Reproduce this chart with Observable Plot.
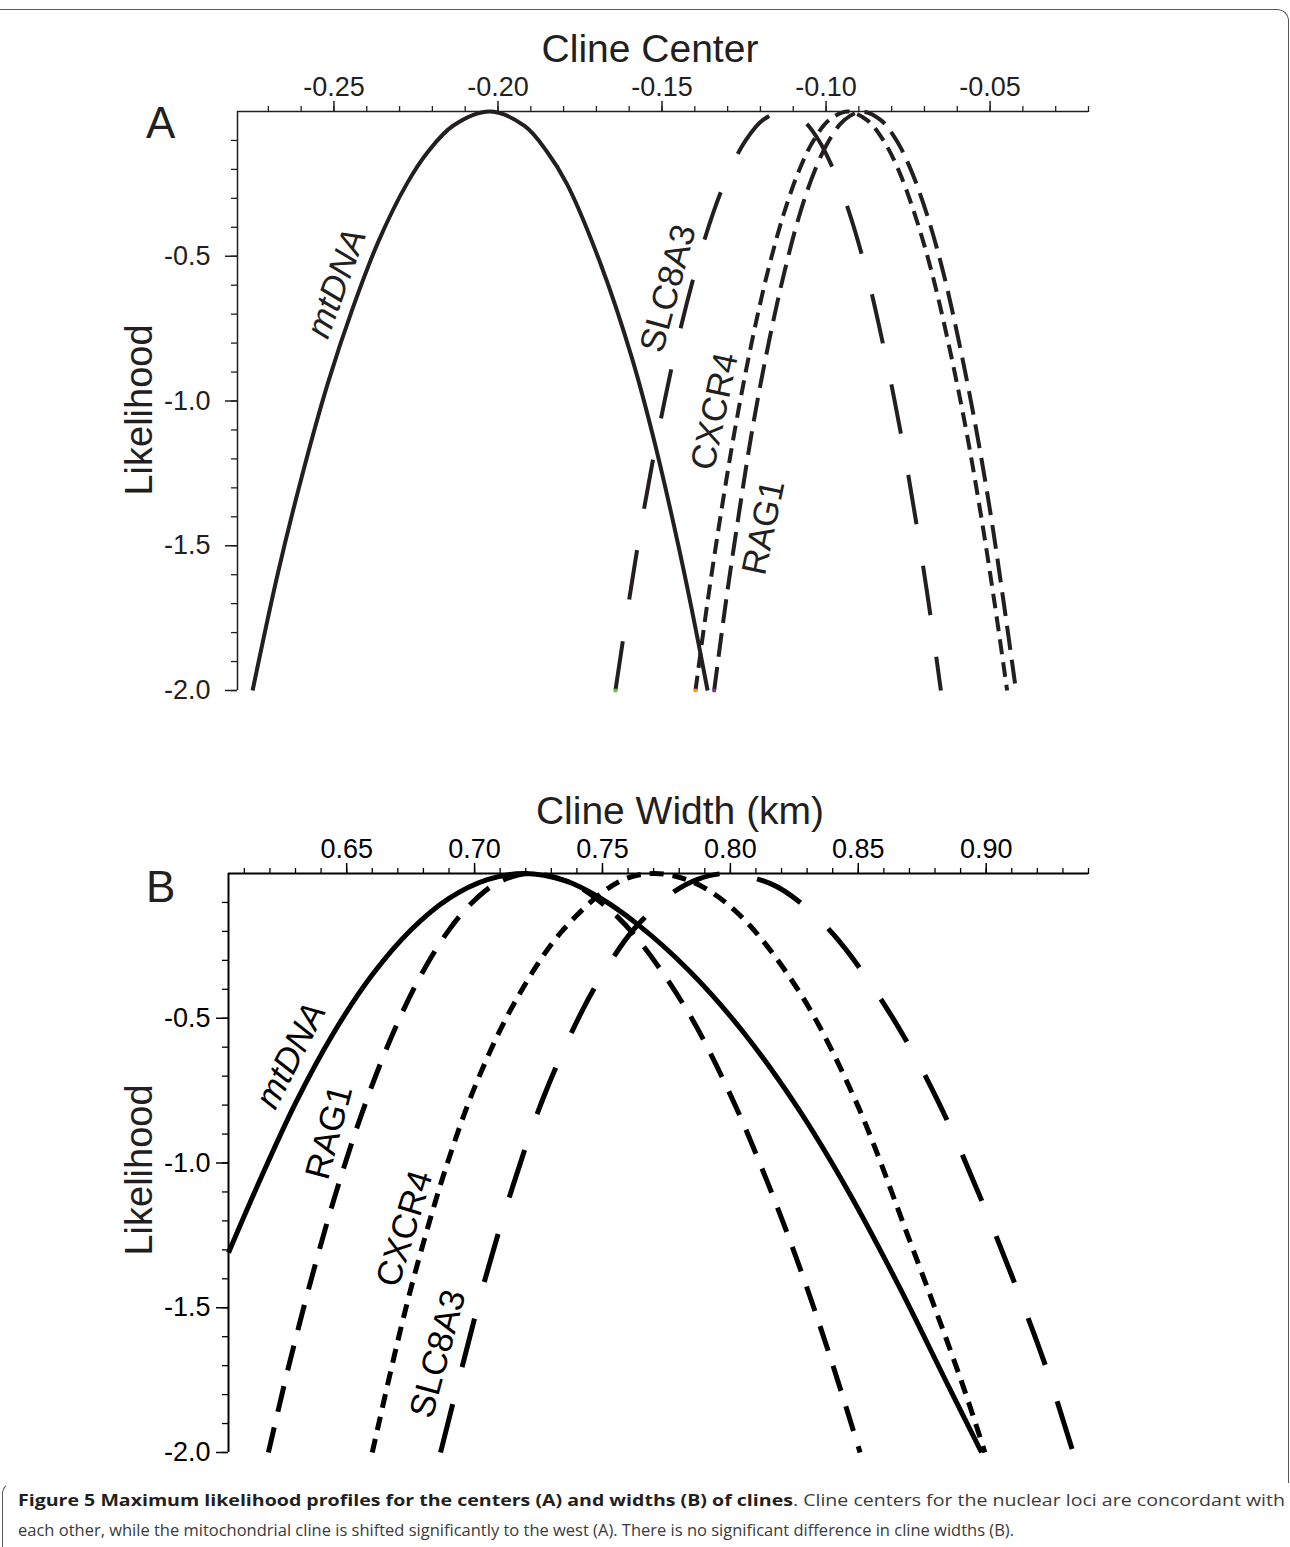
<!DOCTYPE html>
<html>
<head>
<meta charset="utf-8">
<script src="https://cdn.jsdelivr.net/npm/d3@7"></script>
<script src="https://cdn.jsdelivr.net/npm/@observablehq/plot@0.6"></script>
<style>
  html, body { margin: 0; padding: 0; background: #fff; }
  body { width: 1290px; height: 1547px; position: relative; overflow: hidden; font-family: "Liberation Sans", Arial, Helvetica, sans-serif; color: #231f20; }
  #panelA, #panelB { position: absolute; left: 0; }
  #panelA { top: 0; }
  #panelB { top: 760px; }
  .frame { position: absolute; left: -6px; top: 9px; width: 1295px; height: 1474px; box-sizing: border-box;
           border-top: 1.5px solid #5a5a5a; border-right: 1.5px solid #5a5a5a; border-top-right-radius: 12px; }
  .capframe { position: absolute; left: 2px; top: 1482px; width: 30px; height: 90px; box-sizing: border-box;
              border-left: 1.5px solid #5a5a5a; border-top: 1.5px solid transparent; border-top-left-radius: 12px; }
  .title { position: absolute; font-size: 39px; line-height: 39px; white-space: nowrap; transform: translateX(-50%); }
  .panel { position: absolute; font-size: 44px; line-height: 44px; }
  .ylab { position: absolute; font-size: 38px; line-height: 38px; white-space: nowrap; transform: translate(-50%, -50%) rotate(-90deg); }
  .capline { position: absolute; left: 18px; font-family: "Open Sans", "Noto Sans", sans-serif; font-size: 16.5px; line-height: 30px;
             white-space: nowrap; color: #3a3a3a; transform-origin: 0 0; display: inline-block; }
  .capline b { color: #231f20; }
</style>
</head>
<body>
<div class="frame"></div>
<div class="capframe"></div>

<div id="panelA"></div>
<div id="panelB"></div>

<div class="panel" style="left:146px; top:101px;">A</div>
<div class="panel" style="left:146px; top:865px;">B</div>
<div class="title" style="left:650px; top:29px;">Cline Center</div>
<div class="title" style="left:680px; top:791px;">Cline Width (km)</div>
<div class="ylab" style="left:139px; top:410px;">Likelihood</div>
<div class="ylab" style="left:139px; top:1170px;">Likelihood</div>

<div class="capline" id="cap1" style="top:1485px;"><b>Figure 5 Maximum likelihood profiles for the centers (A) and widths (B) of clines</b>. Cline centers for the nuclear loci are concordant with</div>
<div class="capline" id="cap2" style="top:1515px;">each other, while the mitochondrial cline is shifted significantly to the west (A). There is no significant difference in cline widths (B).</div>

<script>
// ---------------- Panel A : cline centre likelihood profiles ----------------
// points are [cline centre, relative log-likelihood]
const A_mtDNA = [[-0.2748,-2.0],[-0.2672,-1.6],[-0.2600,-1.27],[-0.2519,-0.94],[-0.2443,-0.68],[-0.2363,-0.445],[-0.2278,-0.25],[-0.2214,-0.14],[-0.2138,-0.05],[-0.2025,0],[-0.1919,-0.05],[-0.1850,-0.14],[-0.1790,-0.25],[-0.1686,-0.53],[-0.1592,-0.85],[-0.1521,-1.15],[-0.1450,-1.5],[-0.1404,-1.75],[-0.1361,-2.0]];
const A_SLC8A3 = [[-0.1642,-2],[-0.1602,-1.7],[-0.1559,-1.4],[-0.1510,-1.1],[-0.1454,-0.8],[-0.1398,-0.55],[-0.1344,-0.35],[-0.1292,-0.2],[-0.1245,-0.1],[-0.1193,-0.03],[-0.1130,0],[-0.1071,-0.03],[-0.1022,-0.1],[-0.0978,-0.2],[-0.0929,-0.35],[-0.0878,-0.55],[-0.0827,-0.8],[-0.0774,-1.1],[-0.0728,-1.4],[-0.0687,-1.7],[-0.0650,-2]];
const A_CXCR4 = [[-0.1398,-2],[-0.1362,-1.7],[-0.1322,-1.4],[-0.1278,-1.1],[-0.1227,-0.8],[-0.1177,-0.55],[-0.1128,-0.35],[-0.1081,-0.2],[-0.1038,-0.1],[-0.0991,-0.03],[-0.0934,0],[-0.0875,-0.03],[-0.0825,-0.1],[-0.0780,-0.2],[-0.0731,-0.35],[-0.0679,-0.55],[-0.0627,-0.8],[-0.0573,-1.1],[-0.0527,-1.4],[-0.0486,-1.7],[-0.0448,-2]];
const A_RAG1 = [[-0.1341,-2],[-0.1306,-1.7],[-0.1267,-1.4],[-0.1225,-1.1],[-0.1175,-0.8],[-0.1126,-0.55],[-0.1079,-0.35],[-0.1033,-0.2],[-0.0991,-0.1],[-0.0945,-0.03],[-0.0890,0],[-0.0833,-0.03],[-0.0785,-0.1],[-0.0742,-0.2],[-0.0694,-0.35],[-0.0644,-0.55],[-0.0594,-0.8],[-0.0542,-1.1],[-0.0497,-1.4],[-0.0458,-1.7],[-0.0421,-2]];
const A_labels = [
  {name: "SLC8A3", x: -0.1481, L: -0.611, angle: -75},
  {name: "CXCR4",  x: -0.1339, L: -1.036, angle: -78},
  {name: "RAG1",   x: -0.1190, L: -1.437, angle: -78}
];
const A_italic = [{name: "mtDNA", x: -0.2492, L: -0.594, angle: -70}];
const A_endMarks = [{x: -0.1642, c: "#6abd45"}, {x: -0.1398, c: "#f7941d"}, {x: -0.1341, c: "#92278f"}];
const A_xDomain = [-0.2794, -0.02];
const A_xTicks = [-0.25, -0.20, -0.15, -0.10, -0.05];
const A_xMinor = [-0.27,-0.26,-0.25,-0.24,-0.23,-0.22,-0.21,-0.20,-0.19,-0.18,-0.17,-0.16,-0.15,-0.14,-0.13,-0.12,-0.11,-0.10,-0.09,-0.08,-0.07,-0.06,-0.05,-0.04,-0.03,-0.02];

// ---------------- Panel B : cline width likelihood profiles ----------------
const B_mtDNA = [[0.6038,-1.31],[0.6150,-1.081],[0.6300,-0.793],[0.6450,-0.549],[0.6600,-0.350],[0.6750,-0.196],[0.6900,-0.086],[0.7050,-0.021],[0.7195,0],[0.7353,-0.025],[0.7486,-0.082],[0.7635,-0.174],[0.7838,-0.335],[0.8047,-0.544],[0.8262,-0.808],[0.8463,-1.101],[0.8657,-1.422],[0.8852,-1.770],[0.8982,-2.0]];
const B_RAG1 = [[0.6194,-2.0],[0.6274,-1.7],[0.6362,-1.4],[0.6459,-1.1],[0.6571,-0.8],[0.6682,-0.55],[0.6791,-0.35],[0.6896,-0.2],[0.6991,-0.1],[0.7094,-0.03],[0.7220,0],[0.7371,-0.03],[0.7495,-0.1],[0.7628,-0.216],[0.7836,-0.481],[0.8005,-0.774],[0.8148,-1.073],[0.8279,-1.380],[0.8396,-1.686],[0.8507,-2.0]];
const B_CXCR4 = [[0.6600,-2.0],[0.6712,-1.57],[0.6789,-1.31],[0.6894,-1.0],[0.7009,-0.72],[0.7154,-0.45],[0.7341,-0.2],[0.7561,-0.03],[0.7700,0],[0.7855,-0.03],[0.8031,-0.139],[0.8266,-0.404],[0.8487,-0.780],[0.8695,-1.254],[0.8904,-1.756],[0.8995,-2.0]];
const B_SLC8A3 = [[0.6867,-2.0],[0.6951,-1.706],[0.7044,-1.392],[0.7150,-1.079],[0.7270,-0.772],[0.7423,-0.470],[0.7527,-0.311],[0.7625,-0.190],[0.7775,-0.066],[0.7872,-0.02],[0.7990,0],[0.8157,-0.035],[0.8273,-0.1],[0.8422,-0.230],[0.8637,-0.502],[0.8812,-0.787],[0.8962,-1.087],[0.9099,-1.387],[0.9229,-1.693],[0.9340,-2.0]];
const B_labels = [
  {name: "RAG1",   x: 0.6432, L: -0.894, angle: -75},
  {name: "CXCR4",  x: 0.6727, L: -1.227, angle: -73},
  {name: "SLC8A3", x: 0.6857, L: -1.659, angle: -75}
];
const B_italic = [{name: "mtDNA", x: 0.6282, L: -0.629, angle: -63}];
const B_xDomain = [0.6038, 0.94];
const B_xTicks = [0.65, 0.70, 0.75, 0.80, 0.85, 0.90];
const B_xMinor = [0.61,0.62,0.63,0.64,0.65,0.66,0.67,0.68,0.69,0.70,0.71,0.72,0.73,0.74,0.75,0.76,0.77,0.78,0.79,0.80,0.81,0.82,0.83,0.84,0.85,0.86,0.87,0.88,0.89,0.90,0.91,0.92,0.93,0.94];

// shared y (likelihood) ticks
const yTicks = [-0.5, -1.0, -1.5, -2.0];
const yMinor = [-0.1,-0.2,-0.3,-0.4,-0.5,-0.6,-0.7,-0.8,-0.9,-1.0,-1.1,-1.2,-1.3,-1.4,-1.5,-1.6,-1.7,-1.8,-1.9,-2.0];

const FONT = "Liberation Sans, Arial, Helvetica, sans-serif";
const LABEL_SIZE = 35;

function curve(data, color, width, dash) {
  return Plot.line(data, {x: d => d[0], y: d => d[1], stroke: color, strokeWidth: width,
    strokeDasharray: dash, curve: "catmull-rom", strokeLinecap: "butt", strokeLinejoin: "round"});
}

function panel(opts) {
  const ink = opts.ink;
  return Plot.plot({
    width: 1290, height: 730,
    marginLeft: opts.ml, marginRight: 202, marginTop: opts.mt, marginBottom: opts.mb,
    x: {domain: opts.xDomain},
    y: {domain: [-2, 0]},
    style: {background: "transparent", fontFamily: FONT, color: ink, overflow: "visible"},
    marks: [
      Plot.ruleY([0], {stroke: ink, strokeWidth: opts.axisW}),
      Plot.ruleX([opts.xDomain[0]], {stroke: ink, strokeWidth: opts.axisW}),
      Plot.axisX(opts.xMinor, {anchor: "top", tickSize: 6, text: null, label: null, stroke: ink, strokeWidth: 1.3}),
      Plot.axisX(opts.xTicks, {anchor: "top", tickSize: 11, tickPadding: 5, label: null, stroke: ink, strokeWidth: 1.5,
        fill: ink, fontSize: 27, fontFamily: FONT, tickFormat: d => d.toFixed(2)}),
      Plot.axisY(yMinor, {anchor: "left", tickSize: 6, text: null, label: null, stroke: ink, strokeWidth: 1.3}),
      Plot.axisY(yTicks, {anchor: "left", tickSize: 12, tickPadding: opts.yPad, label: null, stroke: ink, strokeWidth: 1.5,
        fill: ink, fontSize: 27, fontFamily: FONT, tickFormat: d => d.toFixed(1), ariaLabel: opts.yAria}),
      ...opts.lines,
      Plot.text(opts.labels, {x: "x", y: "L", text: "name", rotate: "angle", fontSize: LABEL_SIZE, fontFamily: FONT, fill: ink}),
      Plot.text(opts.italic, {x: "x", y: "L", text: "name", rotate: "angle", fontSize: LABEL_SIZE, fontFamily: FONT, fontStyle: "italic", fill: ink}),
      ...(opts.extra || [])
    ]
  });
}

const inkA = "#231f20";
const plotA = panel({
  ink: inkA, ml: 237, mt: 111, mb: 40, axisW: 1.5, yPad: 15, yAria: "y-axis A",
  xDomain: A_xDomain, xTicks: A_xTicks, xMinor: A_xMinor,
  labels: A_labels, italic: A_italic,
  lines: [
    curve(A_mtDNA, inkA, 4, null),
    curve(A_SLC8A3, inkA, 4, "50,42"),
    curve(A_CXCR4, inkA, 4, "15,8"),
    curve(A_RAG1, inkA, 4, "24,10")
  ],
  extra: [Plot.dot(A_endMarks, {x: "x", y: () => -2, fill: "c", r: 2, symbol: "square"})]
});
document.getElementById("panelA").appendChild(plotA);

const inkB = "#000";
const plotB = panel({
  ink: inkB, ml: 228, mt: 113, mb: 38, axisW: 2, yPad: 6, yAria: "y-axis B",
  xDomain: B_xDomain, xTicks: B_xTicks, xMinor: B_xMinor,
  labels: B_labels, italic: B_italic,
  lines: [
    curve(B_mtDNA, inkB, 5, null),
    curve(B_RAG1, inkB, 5, "26,16"),
    curve(B_CXCR4, inkB, 5, "14,9"),
    curve(B_SLC8A3, inkB, 5, "50,38")
  ]
});
document.getElementById("panelB").appendChild(plotB);

// panel B's y tick labels carry a heavy minus sign in the original
plotB.querySelectorAll('g[aria-label="y-axis B"] text').forEach(t => {
  const s = t.textContent;
  if (s.startsWith("-")) {
    t.textContent = "";
    const m = document.createElementNS("http://www.w3.org/2000/svg", "tspan");
    m.setAttribute("font-weight", "bold");
    m.textContent = "-";
    const r = document.createElementNS("http://www.w3.org/2000/svg", "tspan");
    r.textContent = s.slice(1);
    t.appendChild(m); t.appendChild(r);
  }
});

// fit caption lines to the reference widths
function fit(id, target) {
  const el = document.getElementById(id);
  const w = el.getBoundingClientRect().width;
  if (w > 0) el.style.transform = "scaleX(" + (target / w) + ")";
}
fit("cap1", 1267);
fit("cap2", 996);
</script>
</body>
</html>
